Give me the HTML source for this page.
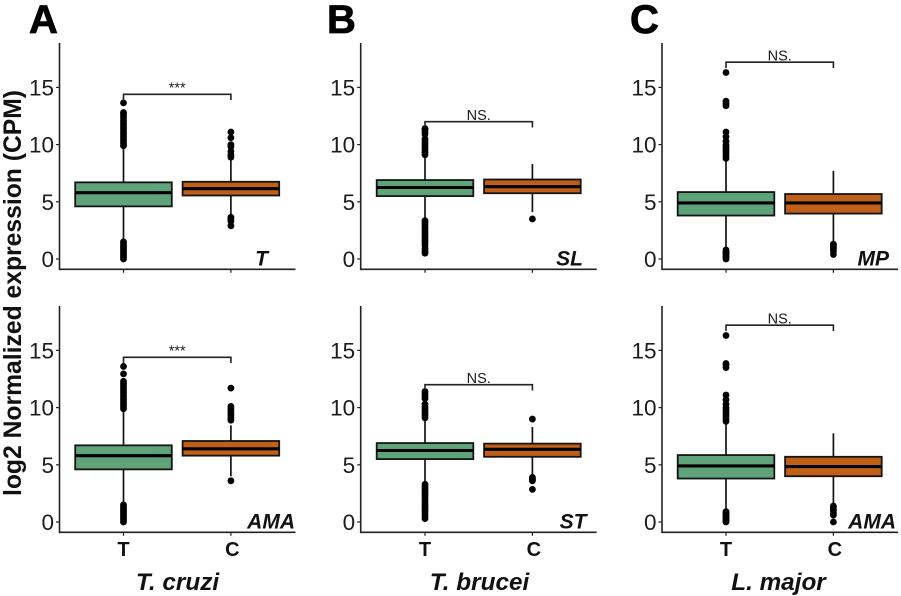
<!DOCTYPE html>
<html>
<head>
<meta charset="utf-8">
<title>log2 normalized expression boxplots</title>
<style>
html,body{margin:0;padding:0;background:#fff;width:901px;height:596px;overflow:hidden}
svg{display:block;filter:blur(0.35px)}
text{font-family:"Liberation Sans",Arial,sans-serif}
</style>
</head>
<body>
<svg id="chart" xmlns="http://www.w3.org/2000/svg" width="901" height="596" viewBox="0 0 901 596"></svg>
<script>
// ---- data ----
const categories = ['T', 'C'];
const yTicks = [0, 5, 10, 15];
const panelTags = ['T', 'AMA', 'SL', 'ST', 'MP', 'AMA'];
const speciesNames = ['T. cruzi', 'T. brucei', 'L. major'];
const columnLetters = ['A', 'B', 'C'];
const yAxisTitle = 'log2 Normalized expression (CPM)';

// [whisker low, q1, median, q3, whisker high]
const treatedStats = [
  [1.6, 4.6, 5.8, 6.7, 9.8],
  [1.6, 4.6, 5.8, 6.7, 9.8],
  [3.4, 5.5, 6.25, 6.9, 9.0],
  [3.4, 5.5, 6.25, 6.9, 9.0],
  [0.9, 3.8, 4.9, 5.85, 8.7],
  [0.9, 3.8, 4.9, 5.85, 8.7]
];
const controlStats = [
  [3.7, 5.55, 6.15, 6.75, 8.8],
  [4.0, 5.8, 6.4, 7.08, 8.45],
  [4.1, 5.75, 6.32, 6.95, 8.3],
  [4.0, 5.7, 6.35, 6.85, 8.3],
  [1.4, 3.97, 4.9, 5.68, 7.7],
  [1.5, 4.0, 4.85, 5.7, 7.75]
];
const treatedOutliers = [
  [0, 0.15, 0.3, 0.45, 0.6, 0.75, 0.9, 1.05, 1.2, 1.35, 1.5, 9.9, 10.1, 10.3, 10.5, 10.7, 10.9, 11.1, 11.3, 11.5, 11.7, 11.9, 12.1, 12.3, 12.5, 12.7, 12.8, 13.65],
  [0, 0.15, 0.3, 0.45, 0.6, 0.75, 0.9, 1.05, 1.2, 1.35, 1.5, 9.9, 10.1, 10.3, 10.5, 10.7, 10.9, 11.1, 11.3, 11.5, 11.7, 11.9, 12.1, 12.3, 12.95, 13.6],
  [0.5, 0.7, 0.9, 1.2, 1.4, 1.6, 1.8, 2.0, 2.2, 2.4, 2.6, 2.8, 3.0, 3.2, 3.35, 9.1, 9.3, 9.5, 9.7, 9.9, 10.1, 10.3, 10.5, 10.9, 11.1, 11.3, 11.4],
  [0.3, 0.5, 0.7, 0.9, 1.1, 1.3, 1.5, 1.7, 1.9, 2.1, 2.3, 2.5, 2.7, 2.9, 3.1, 3.3, 9.1, 9.3, 9.5, 9.7, 9.9, 10.1, 10.3, 10.8, 11.0, 11.2, 11.4],
  [0, 0.1, 0.2, 0.3, 0.4, 0.5, 0.6, 0.7, 0.8, 8.8, 9.0, 9.2, 9.4, 9.6, 9.8, 10.0, 10.3, 10.7, 11.1, 13.4, 13.6, 13.8, 16.3],
  [0, 0.1, 0.2, 0.3, 0.4, 0.5, 0.6, 0.7, 0.8, 0.9, 8.8, 9.0, 9.2, 9.4, 9.6, 9.8, 10.0, 10.3, 10.7, 11.1, 13.5, 13.7, 13.85, 16.3]
];
const controlOutliers = [
  [2.9, 3.3, 3.5, 3.65, 8.9, 9.1, 9.4, 9.8, 10.0, 10.6, 11.1],
  [3.6, 8.9, 9.1, 9.3, 9.5, 9.7, 9.9, 10.1, 11.7],
  [3.5],
  [2.85, 3.6, 3.7, 3.8, 3.9, 9.0],
  [0.4, 0.7, 0.9, 1.0, 1.1, 1.2, 1.3],
  [0, 0.6, 0.8, 1.0, 1.1, 1.3, 1.4]
];
const bracketValues = [14.4, 14.4, 12.0, 12.0, 17.2, 17.2];
const bracketLabels = ['***', '***', 'NS.', 'NS.', 'NS.', 'NS.'];

// ---- layout ----
const SVG_NS = 'http://www.w3.org/2000/svg';
const chart = document.getElementById('chart');
const columnAxisX = [59.5, 360.7, 662];
const columnFirstCat = [123.5, 425, 726];
const rowZeroY = [259, 522];
const tagEndX = [[268, 295], [583, 586.5], [889, 896]];
const titleCenterX = [177.5, 479.5, 778.5];
const letterX = [29, 327, 630];
const unitPx = 11.44, catStep = 107.4, boxHalf = 48.3;
const green = '#5FA37B', orange = '#C05F17', ink = '#141414', soft = '#222222';

function yScale(row, v) { return rowZeroY[row] - v * unitPx; }
function xScale(col, i) { return columnFirstCat[col] + i * catStep; }

function shape(tag, parent, props, content) {
  const el = document.createElementNS(SVG_NS, tag);
  for (const k in props) el.setAttribute(k, props[k]);
  if (content !== undefined) el.textContent = content;
  parent.appendChild(el);
  return el;
}

function drawBox(group, col, row, catIndex, stats, outliers, fill, prefix) {
  const cx = xScale(col, catIndex);
  const y = v => yScale(row, v);
  const whisker = shape('line', group, {x1: cx, x2: cx, y1: y(stats[0]), y2: y(stats[4]), stroke: ink, 'stroke-width': 1.7});
  
  
  outliers.forEach(v => {
    const dot = shape('circle', group, {cx: cx, cy: y(v), r: 3.4, fill: '#000'});
    
    
  });
  const rect = shape('rect', group, {x: cx - boxHalf, y: y(stats[3]), width: boxHalf * 2, height: y(stats[1]) - y(stats[3]), fill: fill, stroke: ink, 'stroke-width': 1.8});
  
  
  const median = shape('line', group, {x1: cx - boxHalf, x2: cx + boxHalf, y1: y(stats[2]), y2: y(stats[2]), stroke: '#000', 'stroke-width': 3.1});
  
  
}

function drawPanel(col, row) {
  const idx = col * 2 + row;
  const name = columnLetters[col].toLowerCase() + '-' + panelTags[idx].toLowerCase();
  const g = shape('g', chart, {});
  
  
  const ax = columnAxisX[col];
  const zero = rowZeroY[row];
  const bottom = zero + 10.3;

  const yAxis = shape('line', g, {x1: ax, x2: ax, y1: zero - 216, y2: bottom + 0.8, stroke: soft, 'stroke-width': 1.6});
  
  
  const xAxis = shape('line', g, {x1: ax, x2: ax + 236, y1: bottom, y2: bottom, stroke: soft, 'stroke-width': 1.6});
  
  

  yTicks.forEach(t => {
    const py = yScale(row, t);
    const tick = shape('line', g, {x1: ax - 3.5, x2: ax, y1: py, y2: py, stroke: soft, 'stroke-width': 1.2});
    
    
    const lab = shape('text', g, {x: ax - 5.5, y: py + 8, 'text-anchor': 'end', 'font-size': 22.5, fill: '#1c1c1c'}, String(t));
    
    
  });

  categories.forEach((c, i) => {
    const px = xScale(col, i);
    const tick = shape('line', g, {x1: px, x2: px, y1: bottom, y2: bottom + 3.5, stroke: soft, 'stroke-width': 1.2});
    
    
    if (row === 1) {
      const lab = shape('text', g, {x: px + (i ? 1.5 : 0), y: 556, 'text-anchor': 'middle', 'font-size': 20, 'font-weight': 'bold', fill: '#111'}, c);
      
      
    }
  });

  drawBox(g, col, row, 0, treatedStats[idx], treatedOutliers[idx], green, 'treated');
  drawBox(g, col, row, 1, controlStats[idx], controlOutliers[idx], orange, 'control');

  const by = yScale(row, bracketValues[idx]);
  const tipY = yScale(row, bracketValues[idx] - 0.5);
  const x0 = xScale(col, 0), x1 = xScale(col, 1);
  const bracket = shape('path', g, {d: 'M' + x0 + ' ' + tipY + 'V' + by + 'H' + x1 + 'V' + tipY, fill: 'none', stroke: soft, 'stroke-width': 1.6});
  
  
  const sig = shape('text', g, {x: (x0 + x1) / 2, y: by - 1.8, 'text-anchor': 'middle', 'font-size': 14.5, fill: '#1c1c1c'}, bracketLabels[idx]);
  
  

  const tag = shape('text', g, {x: tagEndX[col][row], y: zero + 6.3, 'text-anchor': 'end', 'font-size': 21, 'font-weight': 'bold', 'font-style': 'italic', fill: '#111'}, panelTags[idx]);
  
  
}

columnLetters.forEach((letter, col) => {
  drawPanel(col, 0);
  drawPanel(col, 1);
  const big = shape('text', chart, {x: letterX[col], y: 33, 'font-size': 40, 'font-weight': 'bold', fill: '#000', stroke: '#000', 'stroke-width': 0.8}, letter);
  
  
  const title = shape('text', chart, {x: titleCenterX[col], y: 590, 'text-anchor': 'middle', 'font-size': 24.3, 'font-weight': 'bold', 'font-style': 'italic', fill: '#111'}, speciesNames[col]);
  
  
});

const yTitle = shape('text', chart, {transform: 'translate(21 293) rotate(-90)', 'text-anchor': 'middle', 'font-size': 24.7, 'font-weight': 'bold', fill: '#111'}, yAxisTitle);


</script>
</body>
</html>
